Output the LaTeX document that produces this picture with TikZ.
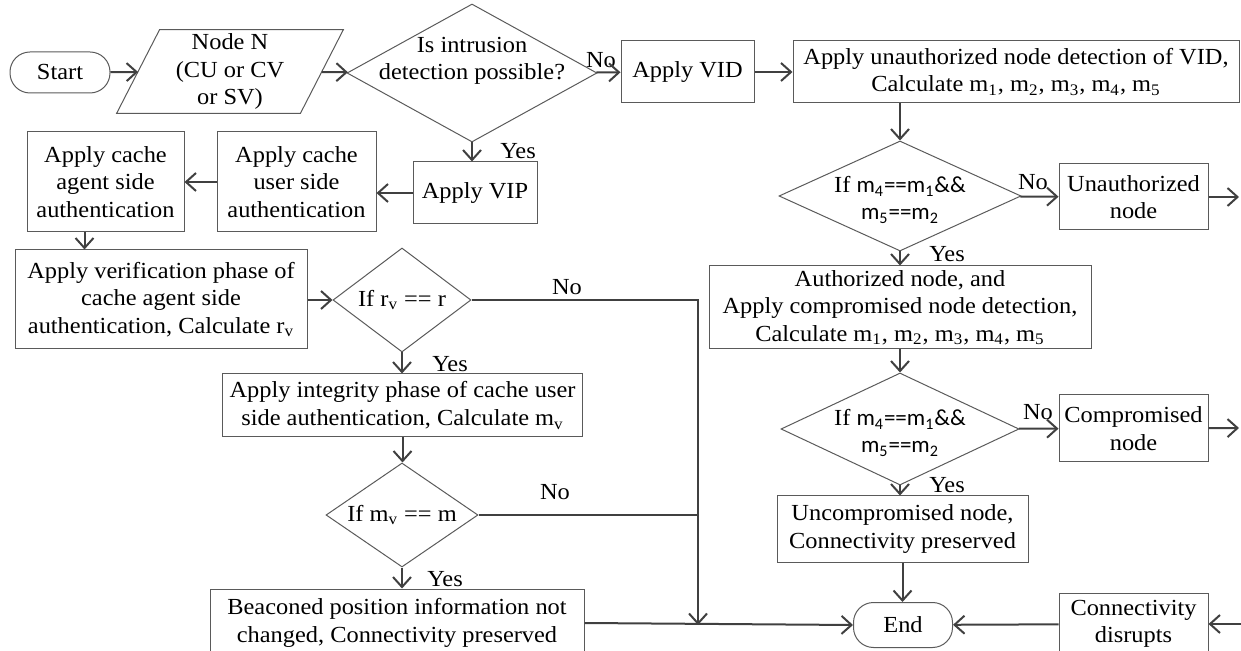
\documentclass[tikz,border=0pt]{standalone}
\usepackage{fontspec}
\setmainfont{Liberation Serif}[FakeStretch=1.06]
\newfontfamily\sansif{Carlito}
\usetikzlibrary{shapes.geometric,arrows.meta}
\definecolor{linegray}{HTML}{404040}
\definecolor{boxgray}{HTML}{5A5A5A}
\tikzset{
  base/.style={font=\fontsize{11.5}{13.75}\selectfont, align=center, text=black},
  box/.style={base, draw=boxgray, line width=0.5pt, inner sep=1pt},
  term/.style={box, rounded corners=10pt},
  decision/.style={diamond, draw=boxgray, line width=0.5pt, inner sep=0pt},
  flow/.style={draw=linegray, line width=1pt, -{Straight Barb[length=5pt,width=9pt]}},
  link/.style={draw=linegray, line width=1pt},
  lab/.style={base, inner sep=0pt}
}
\newcommand{\ms}[1]{m\textsubscript{#1}}
\begin{document}
\begin{tikzpicture}[x=0.5pt, y=-0.5pt]
        \useasboundingbox (0,0) rectangle (1241,651);

        % top row
        \node[term, minimum width=50pt, minimum height=20.5pt] (start) at (60,72.5) {Start};
        \node[base, minimum width=91.5pt, minimum height=41.5pt, inner sep=0pt] (input) at (230,71.5) {Node N\\(CU or CV\\or SV)};
        \draw[boxgray, line width=0.5pt] ([xshift=10.75pt]input.north west) -- ([xshift=10.75pt]input.north east)
            -- ([xshift=-10.75pt]input.south east) -- ([xshift=-10.75pt]input.south west) -- cycle;
        \node[decision, minimum width=125pt, minimum height=69pt,
            label={[base, yshift=6pt]center:{Is intrusion\\detection possible?}}] (q1) at (472,73) {};
        \node[box, minimum width=66.5pt, minimum height=31pt] (vid) at (687.5,72) {Apply VID};
        \node[box, minimum width=223pt, minimum height=31pt] (detect) at (1016,72)
            {Apply unauthorized node detection of VID,\\Calculate \ms1, \ms2, \ms3, \ms4, \ms5};

        % right column
        \node[decision, minimum width=121pt, minimum height=55pt,
            label={[base, yshift=-2pt]center:{If {\sansif \ms4==\ms1\&\&}\\{\sansif \ms5==\ms2}}}] (q4) at (900,196) {};
        \node[box, minimum width=74.5pt, minimum height=33pt] (unauth) at (1133.5,197) {Unauthorized\\node};
        \node[box, minimum width=191pt, minimum height=41.5pt] (auth) at (900,307.5)
            {Authorized node, and\\Apply compromised node detection,\\Calculate \ms1, \ms2, \ms3, \ms4, \ms5};
        \node[decision, minimum width=119pt, minimum height=56pt,
            label={[base, yshift=-2pt]center:{If {\sansif \ms4==\ms1\&\&}\\{\sansif \ms5==\ms2}}}] (q5) at (900,429) {};
        \node[box, minimum width=74.5pt, minimum height=33.5pt] (comp) at (1133.5,428.5) {Compromised\\node};
        \node[box, minimum width=125.5pt, minimum height=33pt] (uncomp) at (902.5,529) {Uncompromised node,\\Connectivity preserved};
        \node[term, minimum width=49.5pt, minimum height=22.5pt] (end) at (903,625) {End};
        \node[box, minimum width=74.5pt, minimum height=31pt] (disrupt) at (1133.5,624) {Connectivity\\disrupts};

        % left part
        \node[box, minimum width=62pt, minimum height=31pt] (vip) at (475,193) {Apply VIP};
        \node[box, minimum width=79.5pt, minimum height=50pt] (user) at (296.5,182) {Apply cache\\user side\\authentication};
        \node[box, minimum width=78.5pt, minimum height=50pt] (agent) at (105.5,182) {Apply cache\\agent side\\authentication};
        \node[box, minimum width=146pt, minimum height=49.5pt] (verify) at (161,299.5)
            {Apply verification phase of\\cache agent side\\authentication, Calculate r\textsubscript{v}};
        \node[decision, minimum width=69pt, minimum height=52pt,
            label={[base]center:{If r\textsubscript{v} == r}}] (q2) at (402,300) {};
        \node[box, minimum width=180pt, minimum height=31.5pt] (integ) at (402.5,405.5)
            {Apply integrity phase of cache user\\side authentication, Calculate \ms{v}};
        \node[decision, minimum width=76pt, minimum height=52pt,
            label={[base]center:{If \ms{v} == m}}] (q3) at (402,515) {};
        \node[box, minimum width=187pt, minimum height=34pt] (beacon) at (397,623)
            {Beaconed position information not\\changed, Connectivity preserved};

        % branch labels
        \node[lab] (no1) at (601,60) {No};
        \node[lab] (yes1) at (518,151) {Yes};
        \node[lab] (no4) at (1033,182) {No};
        \node[lab] (yes4) at (947,254) {Yes};
        \node[lab] (no5) at (1038,412) {No};
        \node[lab] (yes5) at (947,485) {Yes};
        \node[lab] (no2) at (567,287) {No};
        \node[lab] (yes2) at (450,364) {Yes};
        \node[lab] (no3) at (555,492) {No};
        \node[lab] (yes3) at (445,579) {Yes};

        % free ends and junction
        \coordinate (eU) at (1239,197);
        \coordinate (eC) at (1239,428);
        \coordinate (eD) at (1241,624);
        \coordinate (j1) at (698,300);

        % connectors
        \draw[flow] (start) -- (input);
        \draw[flow] (input) -- (q1);
        \draw[flow] (q1) -- (vid);
        \draw[flow] (vid) -- (detect);
        \draw[flow] (q4 |- detect.south) -- (q4);
        \draw[flow] (q4) -- (unauth);
        \draw[flow] (unauth) -- (eU);
        \draw[flow] (q4) -- (auth);
        \draw[flow] (auth) -- (q5);
        \draw[flow] (q5) -- (comp);
        \draw[flow] (comp) -- (eC);
        \draw[flow] (q5.south) -- (q5.south |- uncomp.north);
        \draw[flow] (uncomp.south) -- (uncomp.south |- end.north);
        \draw[flow] (eD) -- (disrupt);
        \draw[flow] (disrupt) -- (end);
        \draw[flow] (q1.south) -- (q1.south |- vip.north);
        \draw[flow] (vip.west) -- (vip.west -| user.east);
        \draw[flow] (user) -- (agent);
        \draw[flow] ([xshift=-10.5pt]agent.south) -- ([xshift=-10.5pt]agent.south |- verify.north);
        \draw[flow] (verify.east |- q2) -- (q2);
        \draw[flow] (q2.east) -- (j1) -- (j1 |- end);
        \draw[flow] (q2.south) -- (q2.south |- integ.north);
        \draw[flow] (integ.south) -- (integ.south |- q3.north);
        \draw[link] (q3.east) -- (q3.east -| j1);
        \draw[flow] (q3.south) -- (q3.south |- beacon.north);
        \draw[flow] (beacon.east) -- (end.west);
\end{tikzpicture}
\end{document}
